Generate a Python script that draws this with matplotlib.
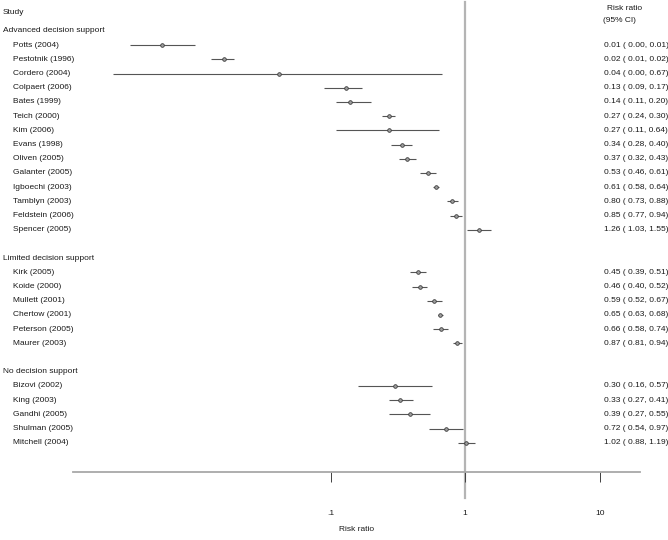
import matplotlib
matplotlib.use("Agg")
import matplotlib.pyplot as plt
from matplotlib.transforms import blended_transform_factory

plt.rcParams['font.family'] = ['Liberation Sans', 'DejaVu Sans']

groups = ["Advanced decision support", "Limited decision support", "No decision support"]

adv_names = ["Potts (2004)", "Pestotnik (1996)", "Cordero (2004)", "Colpaert (2006)",
             "Bates (1999)", "Teich (2000)", "Kim (2006)", "Evans (1998)", "Oliven (2005)",
             "Galanter (2005)", "Igboechi (2003)", "Tamblyn (2003)", "Feldstein (2006)",
             "Spencer (2005)"]
adv_rr = [0.0056, 0.016, 0.041, 0.13, 0.14, 0.27, 0.27, 0.34, 0.37, 0.53, 0.61, 0.80, 0.85, 1.26]
adv_lo = [0.0032, 0.013, 0.0024, 0.09, 0.11, 0.24, 0.11, 0.28, 0.32, 0.46, 0.58, 0.73, 0.77, 1.03]
adv_hi = [0.0099, 0.019, 0.67, 0.17, 0.20, 0.30, 0.64, 0.40, 0.43, 0.61, 0.64, 0.88, 0.94, 1.55]

lim_names = ["Kirk (2005)", "Koide (2000)", "Mullett (2001)", "Chertow (2001)",
             "Peterson (2005)", "Maurer (2003)"]
lim_rr = [0.45, 0.46, 0.59, 0.65, 0.66, 0.87]
lim_lo = [0.39, 0.40, 0.52, 0.63, 0.58, 0.81]
lim_hi = [0.51, 0.52, 0.67, 0.68, 0.74, 0.94]

no_names = ["Bizovi (2002)", "King (2003)", "Gandhi (2005)", "Shulman (2005)", "Mitchell (2004)"]
no_rr = [0.30, 0.33, 0.39, 0.72, 1.02]
no_lo = [0.16, 0.27, 0.27, 0.54, 0.88]
no_hi = [0.57, 0.41, 0.55, 0.97, 1.19]

xticks = [0.1, 1, 10]
xtick_labels = [".1", "1", "10"]

W, H = 668, 540
fig = plt.figure(figsize=(W / 100, H / 100), dpi=100)
ax = fig.add_axes([73 / W, (H - 472) / H, (640 - 73) / W, 472 / H])
ax.set_xscale('log')
ax.set_xlim(10 ** -2.915, 10 ** 1.30)
row_h = 14.2
ax.set_ylim(1 + (472 - 31) / row_h, 1 - 31 / row_h)

for s in ['top', 'left', 'right']:
    ax.spines[s].set_visible(False)
ax.spines['bottom'].set_color('#a8a8a8')
ax.spines['bottom'].set_linewidth(1.3)
ax.set_yticks([])
ax.set_xticks(xticks)
ax.set_xticklabels(xtick_labels)
ax.minorticks_off()
ax.tick_params(axis='x', which='major', direction='out', length=7.5, width=0.7,
               color='#404040', pad=20, labelsize=6, labelcolor='#1a1a1a')
ax.set_xlabel("Risk ratio", fontsize=6, color='#1a1a1a', labelpad=6)

txt = '#1a1a1a'
fs = 6
tr_left = blended_transform_factory(fig.transFigure, ax.transData)

# reference line at 1
ax.plot([1, 1], [1 - 29 / row_h, 1 + (498 - 31) / row_h], color='#b4b4b4', lw=1.6,
        clip_on=False, zorder=1)

fig.text(3 / W, 1 - 12 / H, "Study", fontsize=fs, color=txt, va='center', ha='left')
fig.text(607 / W, 1 - 8 / H, "Risk ratio", fontsize=fs, color=txt, va='center', ha='left')
fig.text(603 / W, 1 - 20 / H, "(95% CI)", fontsize=fs, color=txt, va='center', ha='left')

row = 1
for gname, names, rr, lo, hi in [(groups[0], adv_names, adv_rr, adv_lo, adv_hi),
                                 (groups[1], lim_names, lim_rr, lim_lo, lim_hi),
                                 (groups[2], no_names, no_rr, no_lo, no_hi)]:
    ax.text(3 / W, row, gname, transform=tr_left, fontsize=fs, color=txt, va='center', ha='left')
    row += 1
    for n, r, l, h in zip(names, rr, lo, hi):
        ax.text(13 / W, row, n, transform=tr_left, fontsize=fs, color=txt, va='center', ha='left')
        ax.plot([l, h], [row, row], color='#555555', lw=0.8, zorder=2, solid_capstyle='butt')
        ax.plot([r], [row], marker='o', ms=2.6, mfc='#a0a0a0', mec='#3a3a3a', mew=0.6,
                zorder=3, clip_on=False)
        ax.text(604 / W, row, f"{r:.2f} ( {l:.2f}, {h:.2f})", transform=tr_left,
                fontsize=fs, color=txt, va='center', ha='left')
        row += 1
    row += 1

fig.savefig("out.png", dpi=100, facecolor='white')
